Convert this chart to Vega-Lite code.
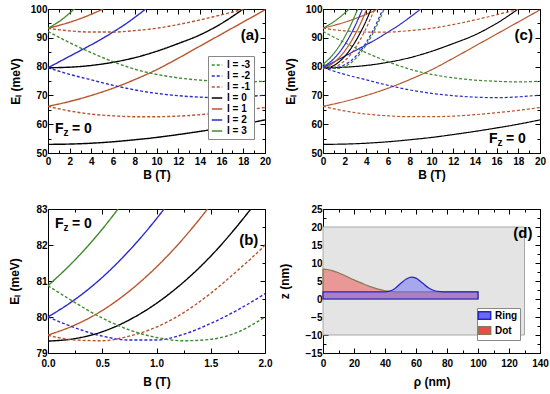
{
"$schema":"https://vega.github.io/schema/vega-lite/v6.json",
"padding":{"left":8,"top":4,"right":2,"bottom":2},
"background":"white",
"config":{"view":{"stroke":null},"font":"Liberation Sans",
"axis":{"grid":false,"domainColor":"#000","tickColor":"#000","labelColor":"#000","titleColor":"#000","labelFont":"Liberation Sans","labelFontSize":10,"labelFontWeight":"bold","titleFont":"Liberation Sans","titleFontSize":12,"titleFontWeight":"bold","domainWidth":1,"tickWidth":1,"labelOverlap":false,"labelFlush":false},
"text":{"font":"Liberation Sans","fontWeight":"bold"}},
"datasets":{
"dot":[
{"c":"d0a","l":0,"B":0,"E":53},{"c":"d0a","l":0,"B":2,"E":53.1},{"c":"d0a","l":0,"B":4,"E":53.4},{"c":"d0a","l":0,"B":6,"E":53.9},{"c":"d0a","l":0,"B":8,"E":54.6},{"c":"d0a","l":0,"B":10,"E":55.4},{"c":"d0a","l":0,"B":12,"E":56.4},{"c":"d0a","l":0,"B":14,"E":57.5},{"c":"d0a","l":0,"B":16,"E":58.7},{"c":"d0a","l":0,"B":18,"E":60.0},{"c":"d0a","l":0,"B":20,"E":61.5},
{"c":"dm1a","l":-1,"B":0,"E":66.2},{"c":"dm1a","l":-1,"B":2,"E":64.6},{"c":"dm1a","l":-1,"B":4,"E":63.5},{"c":"dm1a","l":-1,"B":6,"E":62.9},{"c":"dm1a","l":-1,"B":8,"E":62.6},{"c":"dm1a","l":-1,"B":10,"E":62.6},{"c":"dm1a","l":-1,"B":12,"E":62.8},{"c":"dm1a","l":-1,"B":14,"E":63.3},{"c":"dm1a","l":-1,"B":16,"E":64.0},{"c":"dm1a","l":-1,"B":18,"E":64.8},{"c":"dm1a","l":-1,"B":20,"E":65.8},
{"c":"d1a","l":1,"B":0,"E":66.2},{"c":"d1a","l":1,"B":2,"E":67.9},{"c":"d1a","l":1,"B":4,"E":70.0},{"c":"d1a","l":1,"B":6,"E":72.5},{"c":"d1a","l":1,"B":8,"E":75.5},{"c":"d1a","l":1,"B":10,"E":78.9},{"c":"d1a","l":1,"B":12,"E":82.9},{"c":"d1a","l":1,"B":14,"E":87.1},{"c":"d1a","l":1,"B":16,"E":91.3},{"c":"d1a","l":1,"B":18,"E":95.5},{"c":"d1a","l":1,"B":20,"E":99.7},
{"c":"dm2","l":-2,"B":0,"E":79.6},{"c":"dm2","l":-2,"B":2,"E":77.3},{"c":"dm2","l":-2,"B":4,"E":75.4},{"c":"dm2","l":-2,"B":6,"E":73.5},{"c":"dm2","l":-2,"B":8,"E":71.9},{"c":"dm2","l":-2,"B":10,"E":70.7},{"c":"dm2","l":-2,"B":12,"E":69.9},{"c":"dm2","l":-2,"B":14,"E":69.4},{"c":"dm2","l":-2,"B":16,"E":69.2},{"c":"dm2","l":-2,"B":18,"E":69.5},{"c":"dm2","l":-2,"B":20,"E":70.1},
{"c":"d0b","l":0,"B":0,"E":79.6},{"c":"d0b","l":0,"B":2,"E":79.8},{"c":"d0b","l":0,"B":4,"E":80.4},{"c":"d0b","l":0,"B":6,"E":81.5},{"c":"d0b","l":0,"B":8,"E":83.1},{"c":"d0b","l":0,"B":10,"E":85.3},{"c":"d0b","l":0,"B":12,"E":88.0},{"c":"d0b","l":0,"B":14,"E":91.0},{"c":"d0b","l":0,"B":16,"E":95.0},{"c":"d0b","l":0,"B":18,"E":100.0},{"c":"d0b","l":0,"B":18.5,"E":101.3},
{"c":"d2","l":2,"B":0,"E":79.6},{"c":"d2","l":2,"B":1,"E":81.6},{"c":"d2","l":2,"B":2,"E":83.6},{"c":"d2","l":2,"B":3,"E":85.6},{"c":"d2","l":2,"B":4,"E":87.6},{"c":"d2","l":2,"B":5,"E":89.7},{"c":"d2","l":2,"B":6,"E":92.0},{"c":"d2","l":2,"B":7,"E":94.4},{"c":"d2","l":2,"B":8,"E":97.1},{"c":"d2","l":2,"B":9,"E":100.0},{"c":"d2","l":2,"B":9.3,"E":100.9},
{"c":"dm3","l":-3,"B":0,"E":92.2},{"c":"dm3","l":-3,"B":2,"E":88.3},{"c":"dm3","l":-3,"B":4,"E":84.8},{"c":"dm3","l":-3,"B":6,"E":81.7},{"c":"dm3","l":-3,"B":8,"E":79.1},{"c":"dm3","l":-3,"B":10,"E":77.3},{"c":"dm3","l":-3,"B":12,"E":76.1},{"c":"dm3","l":-3,"B":14,"E":75.3},{"c":"dm3","l":-3,"B":16,"E":74.9},{"c":"dm3","l":-3,"B":18,"E":74.7},{"c":"dm3","l":-3,"B":20,"E":74.9},
{"c":"dm1b","l":-1,"B":0,"E":93.3},{"c":"dm1b","l":-1,"B":2,"E":92.4},{"c":"dm1b","l":-1,"B":4,"E":92.0},{"c":"dm1b","l":-1,"B":6,"E":92.0},{"c":"dm1b","l":-1,"B":8,"E":92.5},{"c":"dm1b","l":-1,"B":10,"E":93.3},{"c":"dm1b","l":-1,"B":12,"E":94.6},{"c":"dm1b","l":-1,"B":14,"E":96.2},{"c":"dm1b","l":-1,"B":16,"E":98.0},{"c":"dm1b","l":-1,"B":18,"E":99.9},{"c":"dm1b","l":-1,"B":20,"E":101.9},
{"c":"d1b","l":1,"B":0,"E":93.3},{"c":"d1b","l":1,"B":1,"E":94.3},{"c":"d1b","l":1,"B":2,"E":95.4},{"c":"d1b","l":1,"B":3,"E":96.7},{"c":"d1b","l":1,"B":4,"E":98.2},{"c":"d1b","l":1,"B":5,"E":99.9},{"c":"d1b","l":1,"B":5.3,"E":100.5},
{"c":"d3","l":3,"B":0,"E":93.3},{"c":"d3","l":3,"B":0.5,"E":94.4},{"c":"d3","l":3,"B":1,"E":95.6},{"c":"d3","l":3,"B":1.5,"E":97.0},{"c":"d3","l":3,"B":2,"E":98.6},{"c":"d3","l":3,"B":2.5,"E":100.3}
],
"ring":[
{"c":"r0","l":0,"B":0,"E":79.33},{"c":"r0","l":0,"B":0.25,"E":79.4},{"c":"r0","l":0,"B":0.5,"E":79.59},{"c":"r0","l":0,"B":0.75,"E":79.92},{"c":"r0","l":0,"B":1,"E":80.38},{"c":"r0","l":0,"B":1.25,"E":80.97},{"c":"r0","l":0,"B":1.5,"E":81.69},{"c":"r0","l":0,"B":1.75,"E":82.55},{"c":"r0","l":0,"B":2,"E":83.53},{"c":"r0","l":0,"B":2.5,"E":85.9},{"c":"r0","l":0,"B":3,"E":88.8},{"c":"r0","l":0,"B":3.5,"E":92.2},{"c":"r0","l":0,"B":4,"E":96.1},{"c":"r0","l":0,"B":4.5,"E":100.6},
{"c":"r1","l":1,"B":0,"E":79.5},{"c":"r1","l":1,"B":0.25,"E":79.78},{"c":"r1","l":1,"B":0.5,"E":80.18},{"c":"r1","l":1,"B":0.75,"E":80.72},{"c":"r1","l":1,"B":1,"E":81.39},{"c":"r1","l":1,"B":1.25,"E":82.19},{"c":"r1","l":1,"B":1.5,"E":83.12},{"c":"r1","l":1,"B":2,"E":85.38},{"c":"r1","l":1,"B":2.5,"E":88.16},{"c":"r1","l":1,"B":3,"E":91.47},{"c":"r1","l":1,"B":3.5,"E":95.3},{"c":"r1","l":1,"B":4,"E":99.66},{"c":"r1","l":1,"B":4.1,"E":100.6},
{"c":"r2","l":2,"B":0,"E":80.0},{"c":"r2","l":2,"B":0.25,"E":80.49},{"c":"r2","l":2,"B":0.5,"E":81.1},{"c":"r2","l":2,"B":0.75,"E":81.85},{"c":"r2","l":2,"B":1,"E":82.73},{"c":"r2","l":2,"B":1.25,"E":83.74},{"c":"r2","l":2,"B":1.5,"E":84.88},{"c":"r2","l":2,"B":2,"E":87.56},{"c":"r2","l":2,"B":2.5,"E":90.76},{"c":"r2","l":2,"B":3,"E":94.49},{"c":"r2","l":2,"B":3.5,"E":98.74},{"c":"r2","l":2,"B":3.7,"E":100.6},
{"c":"r3","l":3,"B":0,"E":80.87},{"c":"r3","l":3,"B":0.25,"E":81.59},{"c":"r3","l":3,"B":0.5,"E":82.44},{"c":"r3","l":3,"B":0.75,"E":83.43},{"c":"r3","l":3,"B":1,"E":84.54},{"c":"r3","l":3,"B":1.5,"E":87.16},{"c":"r3","l":3,"B":2,"E":90.31},{"c":"r3","l":3,"B":2.5,"E":93.98},{"c":"r3","l":3,"B":3,"E":98.2},{"c":"r3","l":3,"B":3.25,"E":100.46},
{"c":"rm1","l":-1,"B":0,"E":79.49},{"c":"rm1","l":-1,"B":0.25,"E":79.36},{"c":"rm1","l":-1,"B":0.5,"E":79.34},{"c":"rm1","l":-1,"B":0.75,"E":79.47},{"c":"rm1","l":-1,"B":1,"E":79.72},{"c":"rm1","l":-1,"B":1.25,"E":80.12},{"c":"rm1","l":-1,"B":1.5,"E":80.66},{"c":"rm1","l":-1,"B":1.75,"E":81.3},{"c":"rm1","l":-1,"B":2,"E":82.0},{"c":"rm1","l":-1,"B":2.5,"E":84.0},{"c":"rm1","l":-1,"B":3,"E":86.6},{"c":"rm1","l":-1,"B":3.5,"E":89.8},{"c":"rm1","l":-1,"B":4,"E":93.5},{"c":"rm1","l":-1,"B":4.5,"E":97.7},{"c":"rm1","l":-1,"B":4.9,"E":101},
{"c":"rm2","l":-2,"B":0,"E":80.0},{"c":"rm2","l":-2,"B":0.25,"E":79.7},{"c":"rm2","l":-2,"B":0.5,"E":79.47},{"c":"rm2","l":-2,"B":0.75,"E":79.36},{"c":"rm2","l":-2,"B":1,"E":79.36},{"c":"rm2","l":-2,"B":1.25,"E":79.52},{"c":"rm2","l":-2,"B":1.5,"E":79.82},{"c":"rm2","l":-2,"B":1.75,"E":80.2},{"c":"rm2","l":-2,"B":2,"E":80.65},{"c":"rm2","l":-2,"B":2.5,"E":81.8},{"c":"rm2","l":-2,"B":3,"E":83.5},{"c":"rm2","l":-2,"B":3.5,"E":85.7},{"c":"rm2","l":-2,"B":4,"E":88.45},{"c":"rm2","l":-2,"B":4.5,"E":91.7},{"c":"rm2","l":-2,"B":5,"E":95.55},{"c":"rm2","l":-2,"B":5.5,"E":99.9},{"c":"rm2","l":-2,"B":5.6,"E":100.8},
{"c":"rm3","l":-3,"B":0,"E":80.87},{"c":"rm3","l":-3,"B":0.25,"E":80.4},{"c":"rm3","l":-3,"B":0.5,"E":79.97},{"c":"rm3","l":-3,"B":0.75,"E":79.64},{"c":"rm3","l":-3,"B":1,"E":79.43},{"c":"rm3","l":-3,"B":1.25,"E":79.34},{"c":"rm3","l":-3,"B":1.5,"E":79.38},{"c":"rm3","l":-3,"B":1.75,"E":79.58},{"c":"rm3","l":-3,"B":2,"E":80.0},{"c":"rm3","l":-3,"B":2.5,"E":81.1},{"c":"rm3","l":-3,"B":3,"E":82.75},{"c":"rm3","l":-3,"B":3.5,"E":84.9},{"c":"rm3","l":-3,"B":4,"E":87.6},{"c":"rm3","l":-3,"B":4.5,"E":90.8},{"c":"rm3","l":-3,"B":5,"E":94.55},{"c":"rm3","l":-3,"B":5.5,"E":98.8},{"c":"rm3","l":-3,"B":5.7,"E":100.7}
]
},
"columns":2,
"spacing":{"row":56,"column":58},
"bounds":"flush",
"resolve":{"scale":{"color":"independent","strokeDash":"independent","stroke":"independent"}},
"concat":[
{
"width":217,"height":144,
"layer":[
{"data":{"name":"dot"},"mark":{"type":"line","strokeWidth":1.4,"clip":true,"interpolate":"monotone"},
"encoding":{
"x":{"field":"B","type":"quantitative","scale":{"domain":[0,20],"nice":false},"axis":{"title":"B (T)","values":[0,1,2,3,4,5,6,7,8,9,10,11,12,13,14,15,16,17,18,19,20],"labelExpr":"datum.value % 2 === 0 ? datum.label : ''","tickSize":{"condition":{"test":"datum.value % 2 === 0","value":-5},"value":-3},"labelPadding":8,"titlePadding":1}},
"y":{"field":"E","type":"quantitative","scale":{"domain":[50,100],"nice":false},"axis":{"title":"Eₗ (meV)","values":[50,55,60,65,70,75,80,85,90,95,100],"labelExpr":"datum.value % 10 === 0 ? datum.label : ''","tickSize":{"condition":{"test":"datum.value % 10 === 0","value":-5},"value":-3},"labelPadding":6,"titlePadding":8}},
"color":{"field":"l","type":"nominal","scale":{"domain":[-3,-2,-1,0,1,2,3],"range":["#3f8a2c","#2a2ad0","#b8552c","#000000","#b8552c","#2a2ad0","#3f8a2c"]},"legend":{"orient":"none","legendX":160,"legendY":47,"title":null,"labelExpr":"'l = ' + datum.label","symbolType":"stroke","symbolSize":110,"symbolStrokeWidth":1.5,"labelFontSize":10,"labelFontWeight":"bold","labelFont":"Liberation Sans","strokeColor":"#888","fillColor":"#fff","padding":3,"rowPadding":0,"labelOffset":4}},
"strokeDash":{"field":"l","type":"nominal","scale":{"domain":[-3,-2,-1,0,1,2,3],"range":[[3,2],[3,2],[3,2],[1,0],[1,0],[1,0],[1,0]]},"legend":{"orient":"none","legendX":160,"legendY":47,"title":null,"labelExpr":"'l = ' + datum.label","symbolType":"stroke","symbolSize":110,"symbolStrokeWidth":1.5,"labelFontSize":10,"labelFontWeight":"bold","labelFont":"Liberation Sans","strokeColor":"#888","fillColor":"#fff","padding":3,"rowPadding":0,"labelOffset":4}},
"detail":{"field":"c"}}},
{"data":{"values":[{"B":0,"E":50}]},"mark":{"type":"point","opacity":0},
"encoding":{
"x":{"field":"B","type":"quantitative","axis":{"orient":"top","title":null,"labels":false,"values":[0,1,2,3,4,5,6,7,8,9,10,11,12,13,14,15,16,17,18,19,20],"tickSize":{"condition":{"test":"datum.value % 2 === 0","value":-5},"value":-3}}},
"y":{"field":"E","type":"quantitative","axis":{"orient":"right","title":null,"labels":false,"values":[50,55,60,65,70,75,80,85,90,95,100],"tickSize":{"condition":{"test":"datum.value % 10 === 0","value":-5},"value":-3}}}}},
{"data":{"values":[{"B":18.6,"E":89.2,"t":"(a)"}]},"mark":{"type":"text","fontSize":15,"align":"center","baseline":"alphabetic"},
"encoding":{"x":{"field":"B","type":"quantitative","axis":null},"y":{"field":"E","type":"quantitative","axis":null},"text":{"field":"t"}}},
{"data":{"values":[{"B":0.65,"E":56.9,"m":"F","s":"z","r":"= 0"}]},"mark":{"type":"text","fontSize":14,"align":"left","baseline":"alphabetic"},
"encoding":{"x":{"field":"B","type":"quantitative","axis":null},"y":{"field":"E","type":"quantitative","axis":null},"text":{"field":"m"}}},
{"data":{"values":[{"B":0.65,"E":56.9,"m":"F","s":"z","r":"= 0"}]},"mark":{"type":"text","fontSize":10,"align":"left","baseline":"alphabetic","dx":8.5,"dy":3},
"encoding":{"x":{"field":"B","type":"quantitative","axis":null},"y":{"field":"E","type":"quantitative","axis":null},"text":{"field":"s"}}},
{"data":{"values":[{"B":0.65,"E":56.9,"m":"F","s":"z","r":"= 0"}]},"mark":{"type":"text","fontSize":14,"align":"left","baseline":"alphabetic","dx":17},
"encoding":{"x":{"field":"B","type":"quantitative","axis":null},"y":{"field":"E","type":"quantitative","axis":null},"text":{"field":"r"}}}
],
"resolve":{"axis":{"x":"independent","y":"independent"}}
},
{
"width":217,"height":144,
"layer":[
{"data":{"name":"dot"},"mark":{"type":"line","strokeWidth":1.2,"clip":true,"interpolate":"monotone"},
"encoding":{
"x":{"field":"B","type":"quantitative","scale":{"domain":[0,20],"nice":false},"axis":{"title":"B (T)","values":[0,1,2,3,4,5,6,7,8,9,10,11,12,13,14,15,16,17,18,19,20],"labelExpr":"datum.value % 2 === 0 ? datum.label : ''","tickSize":{"condition":{"test":"datum.value % 2 === 0","value":-5},"value":-3},"labelPadding":8,"titlePadding":1}},
"y":{"field":"E","type":"quantitative","scale":{"domain":[50,100],"nice":false},"axis":{"title":"Eₗ (meV)","values":[50,55,60,65,70,75,80,85,90,95,100],"labelExpr":"datum.value % 10 === 0 ? datum.label : ''","tickSize":{"condition":{"test":"datum.value % 10 === 0","value":-5},"value":-3},"labelPadding":6,"titlePadding":8}},
"color":{"field":"l","type":"nominal","scale":{"domain":[-3,-2,-1,0,1,2,3],"range":["#3f8a2c","#2a2ad0","#b8552c","#000000","#b8552c","#2a2ad0","#3f8a2c"]},"legend":null},
"strokeDash":{"field":"l","type":"nominal","scale":{"domain":[-3,-2,-1,0,1,2,3],"range":[[3,2],[3,2],[3,2],[1,0],[1,0],[1,0],[1,0]]},"legend":null},
"detail":{"field":"c"}}},
{"data":{"name":"ring"},"mark":{"type":"line","strokeWidth":1.2,"clip":true,"interpolate":"monotone"},
"encoding":{
"x":{"field":"B","type":"quantitative","axis":null},
"y":{"field":"E","type":"quantitative","axis":null},
"color":{"field":"l","type":"nominal","legend":null},
"strokeDash":{"field":"l","type":"nominal","legend":null},
"detail":{"field":"c"}}},
{"data":{"values":[{"B":0,"E":50}]},"mark":{"type":"point","opacity":0},
"encoding":{
"x":{"field":"B","type":"quantitative","axis":{"orient":"top","title":null,"labels":false,"values":[0,1,2,3,4,5,6,7,8,9,10,11,12,13,14,15,16,17,18,19,20],"tickSize":{"condition":{"test":"datum.value % 2 === 0","value":-5},"value":-3}}},
"y":{"field":"E","type":"quantitative","axis":{"orient":"right","title":null,"labels":false,"values":[50,55,60,65,70,75,80,85,90,95,100],"tickSize":{"condition":{"test":"datum.value % 10 === 0","value":-5},"value":-3}}}}},
{"data":{"values":[{"B":18.5,"E":89.2,"t":"(c)"}]},"mark":{"type":"text","fontSize":15,"align":"center","baseline":"alphabetic"},
"encoding":{"x":{"field":"B","type":"quantitative","axis":null},"y":{"field":"E","type":"quantitative","axis":null},"text":{"field":"t"}}},
{"data":{"values":[{"B":15.3,"E":53.5,"m":"F","s":"z","r":"= 0"}]},"mark":{"type":"text","fontSize":14,"align":"left","baseline":"alphabetic"},
"encoding":{"x":{"field":"B","type":"quantitative","axis":null},"y":{"field":"E","type":"quantitative","axis":null},"text":{"field":"m"}}},
{"data":{"values":[{"B":15.3,"E":53.5,"m":"F","s":"z","r":"= 0"}]},"mark":{"type":"text","fontSize":10,"align":"left","baseline":"alphabetic","dx":8.5,"dy":3},
"encoding":{"x":{"field":"B","type":"quantitative","axis":null},"y":{"field":"E","type":"quantitative","axis":null},"text":{"field":"s"}}},
{"data":{"values":[{"B":15.3,"E":53.5,"m":"F","s":"z","r":"= 0"}]},"mark":{"type":"text","fontSize":14,"align":"left","baseline":"alphabetic","dx":17},
"encoding":{"x":{"field":"B","type":"quantitative","axis":null},"y":{"field":"E","type":"quantitative","axis":null},"text":{"field":"r"}}}
],
"resolve":{"axis":{"x":"independent","y":"independent"}}
},
{
"width":217,"height":144,
"layer":[
{"data":{"name":"ring"},"mark":{"type":"line","strokeWidth":1.4,"clip":true,"interpolate":"monotone"},
"encoding":{
"x":{"field":"B","type":"quantitative","scale":{"domain":[0,2],"nice":false},"axis":{"title":"B (T)","format":".1f","values":[0,0.25,0.5,0.75,1,1.25,1.5,1.75,2],"labelExpr":"datum.value % 0.5 === 0 ? datum.label : ''","tickSize":{"condition":{"test":"datum.value % 0.5 === 0","value":-5},"value":-3},"labelPadding":10,"titlePadding":6}},
"y":{"field":"E","type":"quantitative","scale":{"domain":[79,83],"nice":false},"axis":{"title":"Eₗ (meV)","format":"d","values":[79,79.5,80,80.5,81,81.5,82,82.5,83],"labelExpr":"datum.value % 1 === 0 ? datum.label : ''","tickSize":{"condition":{"test":"datum.value % 1 === 0","value":-5},"value":-3},"labelPadding":6,"titlePadding":14}},
"color":{"field":"l","type":"nominal","scale":{"domain":[-3,-2,-1,0,1,2,3],"range":["#3f8a2c","#2a2ad0","#b8552c","#000000","#b8552c","#2a2ad0","#3f8a2c"]},"legend":null},
"strokeDash":{"field":"l","type":"nominal","scale":{"domain":[-3,-2,-1,0,1,2,3],"range":[[3,2],[3,2],[3,2],[1,0],[1,0],[1,0],[1,0]]},"legend":null},
"detail":{"field":"c"}}},
{"data":{"values":[{"B":0,"E":79}]},"mark":{"type":"point","opacity":0},
"encoding":{
"x":{"field":"B","type":"quantitative","axis":{"orient":"top","title":null,"labels":false,"values":[0,0.25,0.5,0.75,1,1.25,1.5,1.75,2],"tickSize":{"condition":{"test":"datum.value % 0.5 === 0","value":-5},"value":-3}}},
"y":{"field":"E","type":"quantitative","axis":{"orient":"right","title":null,"labels":false,"values":[79,79.5,80,80.5,81,81.5,82,82.5,83],"tickSize":{"condition":{"test":"datum.value % 1 === 0","value":-5},"value":-3}}}}},
{"data":{"values":[{"B":1.85,"E":82.0,"t":"(b)"}]},"mark":{"type":"text","fontSize":15,"align":"center","baseline":"alphabetic"},
"encoding":{"x":{"field":"B","type":"quantitative","axis":null},"y":{"field":"E","type":"quantitative","axis":null},"text":{"field":"t"}}},
{"data":{"values":[{"B":0.065,"E":82.47,"m":"F","s":"z","r":"= 0"}]},"mark":{"type":"text","fontSize":14,"align":"left","baseline":"alphabetic"},
"encoding":{"x":{"field":"B","type":"quantitative","axis":null},"y":{"field":"E","type":"quantitative","axis":null},"text":{"field":"m"}}},
{"data":{"values":[{"B":0.065,"E":82.47,"m":"F","s":"z","r":"= 0"}]},"mark":{"type":"text","fontSize":10,"align":"left","baseline":"alphabetic","dx":8.5,"dy":3},
"encoding":{"x":{"field":"B","type":"quantitative","axis":null},"y":{"field":"E","type":"quantitative","axis":null},"text":{"field":"s"}}},
{"data":{"values":[{"B":0.065,"E":82.47,"m":"F","s":"z","r":"= 0"}]},"mark":{"type":"text","fontSize":14,"align":"left","baseline":"alphabetic","dx":17},
"encoding":{"x":{"field":"B","type":"quantitative","axis":null},"y":{"field":"E","type":"quantitative","axis":null},"text":{"field":"r"}}}
],
"resolve":{"axis":{"x":"independent","y":"independent"}}
},
{
"width":217,"height":144,
"layer":[
{"data":{"values":[{"rho":0,"rho2":130,"z":-10,"z2":20}]},"mark":{"type":"rect","fill":"#e4e4e4","stroke":"#a8a8a8","strokeWidth":1},
"encoding":{
"x":{"field":"rho","type":"quantitative","scale":{"domain":[0,140],"nice":false},"axis":{"title":"ρ (nm)","values":[0,10,20,30,40,50,60,70,80,90,100,110,120,130,140],"labelExpr":"datum.value % 20 === 0 ? datum.label : ''","tickSize":{"condition":{"test":"datum.value % 20 === 0","value":-5},"value":-3},"labelPadding":10,"titlePadding":6}},
"x2":{"field":"rho2"},
"y":{"field":"z","type":"quantitative","scale":{"domain":[-15,25],"nice":false,"zero":false},"axis":{"title":"z (nm)","values":[-15,-12.5,-10,-7.5,-5,-2.5,0,2.5,5,7.5,10,12.5,15,17.5,20,22.5,25],"labelExpr":"datum.value % 5 === 0 ? datum.label : ''","tickSize":{"condition":{"test":"datum.value % 5 === 0","value":-5},"value":-3},"labelPadding":6,"titlePadding":14}},
"y2":{"field":"z2"}}},
{"data":{"values":[
{"shape":"Dot","rho":0,"z":8.3},{"shape":"Dot","rho":3,"z":8.2},{"shape":"Dot","rho":6,"z":7.9},{"shape":"Dot","rho":10,"z":7.3},{"shape":"Dot","rho":15,"z":6.3},{"shape":"Dot","rho":20,"z":5.3},{"shape":"Dot","rho":25,"z":4.4},{"shape":"Dot","rho":30,"z":3.5},{"shape":"Dot","rho":35,"z":2.8},{"shape":"Dot","rho":40,"z":2.3},{"shape":"Dot","rho":45,"z":2.05},{"shape":"Dot","rho":50,"z":2.0},{"shape":"Dot","rho":100,"z":2.0},
{"shape":"Ring","rho":0,"z":2.0},{"shape":"Ring","rho":40,"z":2.0},{"shape":"Ring","rho":43,"z":2.2},{"shape":"Ring","rho":46,"z":2.8},{"shape":"Ring","rho":50,"z":4.3},{"shape":"Ring","rho":54,"z":5.6},{"shape":"Ring","rho":57,"z":6.1},{"shape":"Ring","rho":60,"z":5.8},{"shape":"Ring","rho":64,"z":4.5},{"shape":"Ring","rho":68,"z":3.1},{"shape":"Ring","rho":72,"z":2.3},{"shape":"Ring","rho":76,"z":2.05},{"shape":"Ring","rho":80,"z":2.0},{"shape":"Ring","rho":100,"z":2.0}
]},
"mark":{"type":"area","fillOpacity":0.5,"strokeWidth":1.2,"interpolate":"monotone"},
"encoding":{
"x":{"field":"rho","type":"quantitative","axis":null},
"y":{"field":"z","type":"quantitative","stack":null,"axis":null},
"color":{"field":"shape","type":"nominal","scale":{"domain":["Ring","Dot"],"range":["#6a6af5","#ee4a4a"]},"legend":{"orient":"none","legendX":154,"legendY":99,"title":null,"symbolType":"M-1.3,-0.8H1.3V0.8H-1.3Z","symbolSize":90,"labelFontSize":10,"labelFontWeight":"bold","labelFont":"Liberation Sans","strokeColor":"#888","fillColor":"#fff","padding":2,"rowPadding":0,"labelOffset":5,"symbolOpacity":1}},
"stroke":{"field":"shape","type":"nominal","scale":{"domain":["Ring","Dot"],"range":["#2424c8","#8a7a52"]},"legend":{"orient":"none","legendX":154,"legendY":99,"title":null,"symbolType":"M-1.3,-0.8H1.3V0.8H-1.3Z","symbolSize":90,"labelFontSize":10,"labelFontWeight":"bold","labelFont":"Liberation Sans","strokeColor":"#888","fillColor":"#fff","padding":2,"rowPadding":0,"labelOffset":5,"symbolOpacity":1}},
"strokeDash":{"field":"shape","type":"nominal","scale":{"domain":["Ring","Dot"],"range":[[1,0],[3,2]]},"legend":{"orient":"none","legendX":154,"legendY":99,"title":null,"symbolType":"M-1.3,-0.8H1.3V0.8H-1.3Z","symbolSize":90,"labelFontSize":10,"labelFontWeight":"bold","labelFont":"Liberation Sans","strokeColor":"#888","fillColor":"#fff","padding":2,"rowPadding":0,"labelOffset":5,"symbolOpacity":1}}}},
{"data":{"values":[{"rho":0,"z":-15}]},"mark":{"type":"point","opacity":0},
"encoding":{
"x":{"field":"rho","type":"quantitative","axis":{"orient":"top","title":null,"labels":false,"values":[0,10,20,30,40,50,60,70,80,90,100,110,120,130,140],"tickSize":{"condition":{"test":"datum.value % 20 === 0","value":-5},"value":-3}}},
"y":{"field":"z","type":"quantitative","axis":{"orient":"right","title":null,"labels":false,"values":[-15,-12.5,-10,-7.5,-5,-2.5,0,2.5,5,7.5,10,12.5,15,17.5,20,22.5,25],"tickSize":{"condition":{"test":"datum.value % 5 === 0","value":-5},"value":-3}}}}},
{"data":{"values":[{"rho":129,"z":17.0,"t":"(d)"}]},"mark":{"type":"text","fontSize":15,"align":"center","baseline":"alphabetic"},
"encoding":{"x":{"field":"rho","type":"quantitative","axis":null},"y":{"field":"z","type":"quantitative","axis":null},"text":{"field":"t"}}}
],
"resolve":{"axis":{"x":"independent","y":"independent"}}
}
]
}
